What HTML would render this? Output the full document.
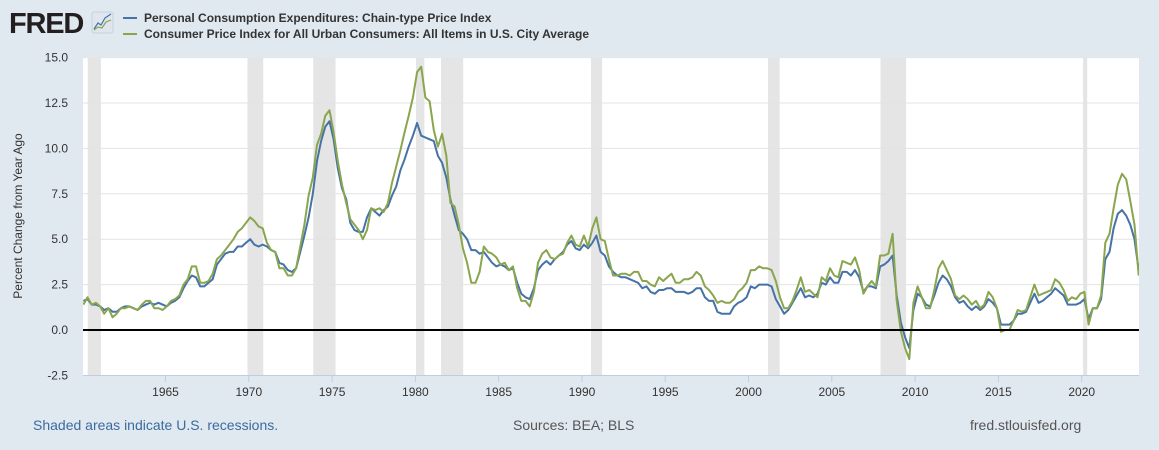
<!DOCTYPE html>
<html><head><meta charset="utf-8">
<style>
body{margin:0;background:#e1e9f0;font-family:"Liberation Sans",Arial,sans-serif;}
#wrap{position:relative;width:1159px;height:450px;overflow:hidden;background:#e1e9f0;}
</style></head>
<body>
<div id="wrap">
<svg id="chart" width="1159" height="450" xmlns="http://www.w3.org/2000/svg">
  <g>
    <text x="9" y="33" font-family="Liberation Sans, sans-serif" font-size="29" font-weight="bold" fill="#231f20" letter-spacing="-1.2">FRED</text>
    <rect x="92" y="12" width="21" height="21" rx="2" fill="#dfe6ee" stroke="#c7d2de"/>
    <polyline points="94,29 98,23 101,25 105,18 111,14" fill="none" stroke="#4572a7" stroke-width="1.2"/>
    <polyline points="94,30 98,27 102,28 106,22 111,20" fill="none" stroke="#89a54e" stroke-width="1.2"/>
  </g>
  <g>
    <g>
      <line x1="123" y1="18" x2="137" y2="18" stroke="#4572a7" stroke-width="2"/>
      <text x="144" y="22" font-size="12" font-weight="bold" fill="#333">Personal Consumption Expenditures: Chain-type Price Index</text>
    </g>
    <g>
      <line x1="123" y1="34" x2="137" y2="34" stroke="#89a54e" stroke-width="2"/>
      <text x="144" y="38" font-size="12" font-weight="bold" fill="#333">Consumer Price Index for All Urban Consumers: All Items in U.S. City Average</text>
    </g>
  </g>
  <rect x="83" y="57" width="1056" height="318" fill="#ffffff"/>
  <g id="recessions"></g>
  <g id="grid"></g>
  <g id="yticks"></g>
  <g id="xticks"></g>
  <clipPath id="clip"><rect x="83" y="50" width="1056" height="330"/></clipPath>
  <g id="series" clip-path="url(#clip)"></g>
  <text transform="translate(22,216) rotate(-90)" text-anchor="middle" font-size="12" fill="#333">Percent Change from Year Ago</text>
  <text x="33" y="430" font-size="14" fill="#3b6aa0">Shaded areas indicate U.S. recessions.</text>
  <text x="513" y="430" font-size="14" fill="#555">Sources: BEA; BLS</text>
  <text x="970" y="430" font-size="14" fill="#555">fred.stlouisfed.org</text>
</svg>
</div>
<script>
const startYear = 1960.07;
const endYear = 2023.42;
const yTicks = [-2.5, 0, 2.5, 5, 7.5, 10, 12.5, 15];
const yTickLabels = ["-2.5","0.0","2.5","5.0","7.5","10.0","12.5","15.0"];
const xTicks = [1965,1970,1975,1980,1985,1990,1995,2000,2005,2010,2015,2020];
const recessionStarts = [1960.33,1969.92,1973.87,1980.04,1981.54,1990.54,2001.17,2007.92,2020.08];
const recessionEnds   = [1961.12,1970.87,1975.21,1980.54,1982.87,1991.21,2001.87,2009.46,2020.33];
// quarterly values 1960Q1 .. 2023Q2
const pceValues = [
1.6,1.7,1.4,1.4, 1.3,1.1,1.2,1.0, 1.0,1.2,1.3,1.3, 1.2,1.1,1.3,1.4, 1.5,1.4,1.5,1.4,
1.3,1.5,1.6,1.8, 2.3,2.7,3.0,2.9, 2.4,2.4,2.6,2.8, 3.6,3.9,4.2,4.3, 4.3,4.6,4.6,4.8,
5.0,4.7,4.6,4.7, 4.6,4.4,4.3,3.7, 3.6,3.3,3.2,3.4, 4.3,5.2,6.2,7.5, 9.3,10.4,11.2,11.5,
10.5,8.9,7.8,7.2, 5.9,5.5,5.4,5.4, 6.2,6.7,6.5,6.3, 6.6,6.8,7.4,7.9, 8.8,9.4,10.1,10.7,
11.4,10.7,10.6,10.5, 10.4,9.6,9.2,8.4, 7.2,6.3,5.5,5.3, 5.0,4.4,4.4,4.2, 4.3,4.0,3.7,3.5,
3.6,3.5,3.3,3.4, 2.6,2.0,1.8,1.7, 2.3,3.3,3.6,3.8, 3.6,3.9,4.1,4.3, 4.7,4.9,4.5,4.4,
4.7,4.5,4.8,5.2, 4.3,4.1,3.5,3.2, 3.0,2.9,2.9,2.8, 2.7,2.6,2.3,2.4, 2.1,2.0,2.2,2.2,
2.3,2.3,2.1,2.1, 2.1,2.0,2.1,2.3, 2.3,1.8,1.6,1.6, 1.0,0.9,0.9,0.9, 1.3,1.5,1.6,1.8,
2.4,2.3,2.5,2.5, 2.5,2.4,1.7,1.3, 0.9,1.1,1.5,1.9, 2.3,1.8,1.9,1.8, 2.0,2.6,2.5,2.9,
2.6,2.6,3.2,3.2, 3.0,3.3,2.9,2.1, 2.4,2.4,2.3,3.5, 3.6,3.8,4.1,1.9, 0.4,-0.4,-1.0,1.1,
2.0,1.8,1.4,1.3, 1.9,2.6,3.0,2.8, 2.4,1.8,1.5,1.6, 1.3,1.1,1.3,1.1, 1.3,1.7,1.5,1.2,
0.3,0.3,0.3,0.5, 0.9,0.9,1.0,1.5, 2.0,1.5,1.6,1.8, 2.0,2.3,2.1,1.9, 1.4,1.4,1.4,1.5,
1.7,0.6,1.2,1.2, 1.7,3.9,4.3,5.6, 6.4,6.6,6.3,5.8, 5.0,3.3
];
const cpiValues = [
1.4,1.8,1.4,1.5, 1.3,0.9,1.2,0.7, 0.9,1.2,1.2,1.3, 1.2,1.1,1.4,1.6, 1.6,1.2,1.2,1.1,
1.3,1.6,1.7,1.9, 2.5,2.8,3.5,3.5, 2.6,2.6,2.7,3.1, 3.9,4.1,4.4,4.7, 5.0,5.4,5.6,5.9,
6.2,6.0,5.7,5.6, 4.8,4.4,4.3,3.4, 3.4,3.0,3.0,3.4, 4.6,5.8,7.4,8.4, 10.2,10.8,11.8,12.1,
10.9,9.3,8.0,7.0, 6.1,5.8,5.5,5.0, 5.5,6.7,6.6,6.7, 6.5,7.0,8.1,9.0, 9.9,10.9,11.8,12.8,
14.2,14.5,12.8,12.6, 11.0,10.1,10.8,9.6, 7.0,6.8,5.8,4.5, 3.7,2.6,2.6,3.2, 4.6,4.3,4.2,4.0,
3.6,3.7,3.3,3.5, 2.3,1.6,1.6,1.3, 2.1,3.7,4.2,4.4, 4.0,3.9,4.1,4.2, 4.8,5.2,4.7,4.6,
5.2,4.6,5.6,6.2, 5.0,4.9,3.9,3.0, 3.0,3.1,3.1,3.0, 3.2,3.2,2.7,2.7, 2.5,2.4,2.9,2.7,
2.9,3.1,2.6,2.6, 2.8,2.8,2.9,3.2, 3.0,2.4,2.2,1.9, 1.5,1.6,1.5,1.5, 1.7,2.1,2.3,2.6,
3.3,3.3,3.5,3.4, 3.4,3.3,2.7,1.8, 1.2,1.2,1.6,2.2, 2.9,2.1,2.2,2.0, 1.8,2.9,2.7,3.4,
3.0,2.9,3.8,3.7, 3.6,4.0,3.3,2.0, 2.4,2.7,2.4,4.1, 4.1,4.2,5.3,1.6, -0.1,-1.0,-1.6,1.5,
2.4,1.8,1.2,1.2, 2.2,3.4,3.8,3.3, 2.8,1.9,1.7,1.9, 1.7,1.4,1.6,1.2, 1.4,2.1,1.8,1.2,
-0.1,0.0,0.0,0.5, 1.1,1.0,1.1,1.8, 2.5,1.9,2.0,2.1, 2.2,2.8,2.6,2.2, 1.6,1.8,1.7,2.0,
2.1,0.3,1.2,1.2, 1.9,4.8,5.3,6.7, 8.0,8.6,8.3,7.1, 5.8,3.0
];

const NS = "http://www.w3.org/2000/svg";
const plotL = 83, plotR = 1139, plotT = 57.5, plotB = 375;
const x1965px = 165.5, pxPerYear = (1081.7 - 165.5) / 55;
function xScale(yr){ return x1965px + (yr - 1965) * pxPerYear; }
function yScale(v){ return 330 - v * (45.4 / 2.5); }
function idxYear(i, n){ return startYear + i * (endYear - startYear) / (n - 1); }
function mk(tag, attrs, parent){
  const el = document.createElementNS(NS, tag);
  for (const k in attrs) el.setAttribute(k, attrs[k]);
  parent.appendChild(el);
  return el;
}
const rec = document.getElementById('recessions');
recessionStarts.forEach((s, i) => {
  const a = Math.max(plotL, xScale(s)), b = xScale(recessionEnds[i]);
  const r = mk('rect', {x: a, y: plotT, width: b - a, height: plotB - plotT, fill: '#e5e5e5'}, rec);
  
  
});
const grid = document.getElementById('grid');
const yt = document.getElementById('yticks');
yTicks.forEach((v, i) => {
  const y = yScale(v);
  if (v !== 0 && v !== -2.5) {
    const g = mk('line', {x1: plotL, x2: plotR, y1: y, y2: y, stroke: '#e3e3e3', 'stroke-width': 1}, grid);
    
    
  }
  const t = mk('text', {x: 68, y: y + 4, 'text-anchor': 'end', 'font-size': 12, fill: '#333'}, yt);
  t.textContent = yTickLabels[i];
  
  
});
const xt = document.getElementById('xticks');
mk('line', {x1: plotL, x2: plotR, y1: plotB + 0.5, y2: plotB + 0.5, stroke: '#c0cde0', 'stroke-width': 1}, xt);
xTicks.forEach(yr => {
  const x = xScale(yr);
  mk('line', {x1: x, x2: x, y1: plotB, y2: plotB + 7, stroke: '#c0cde0', 'stroke-width': 1}, xt);
  const t = mk('text', {x: x, y: 396, 'text-anchor': 'middle', 'font-size': 12, fill: '#333'}, xt);
  t.textContent = String(yr);
  
  
});
const ser = document.getElementById('series');
function drawSeries(vals, color, name){
  const pts = vals.map((v, i) => xScale(idxYear(i, vals.length)).toFixed(1) + ',' + yScale(v).toFixed(1)).join(' ');
  const p = mk('polyline', {points: pts, fill: 'none', stroke: color, 'stroke-width': 2, 'stroke-linejoin': 'round'}, ser);
  
  
}
drawSeries(pceValues, '#4572a7', 'pce-line');
drawSeries(cpiValues, '#89a54e', 'cpi-line');
const zl = mk('line', {x1: plotL, x2: plotR, y1: yScale(0), y2: yScale(0), stroke: '#000', 'stroke-width': 2}, ser);


</script>
</body></html>
